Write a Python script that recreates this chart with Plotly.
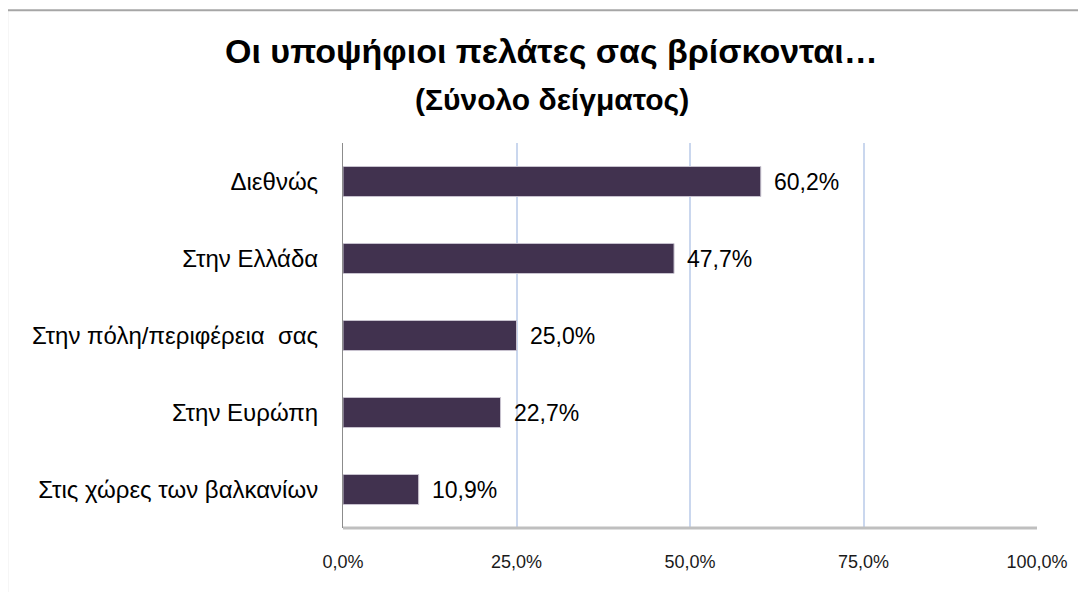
import plotly.graph_objects as go

categories = ["Διεθνώς", "Στην Ελλάδα", "Στην πόλη/περιφέρεια  σας", "Στην Ευρώπη", "Στις χώρες των βαλκανίων"]
values = [60.2, 47.7, 25.0, 22.7, 10.9]
value_labels = ["60,2%", "47,7%", "25,0%", "22,7%", "10,9%"]
tick_values = [0, 25, 50, 75, 100]
tick_labels = ["0,0%", "25,0%", "50,0%", "75,0%", "100,0%"]
title_text = "Οι υποψήφιοι πελάτες σας βρίσκονται…"
subtitle_text = "(Σύνολο δείγματος)"

BAR = "#41324F"
FONT = "Liberation Sans, Arial, sans-serif"

fig = go.Figure()
fig.add_trace(go.Bar(
    x=values, y=categories, orientation="h",
    marker=dict(color=BAR, line=dict(color="#C8C3CF", width=1)),
    width=0.39, hoverinfo="skip",
))

annotations = []
for c, v, t in zip(categories, values, value_labels):
    annotations.append(dict(x=v, y=c, xref="x", yref="y", text=t, showarrow=False,
                            xanchor="left", yanchor="middle", xshift=11,
                            font=dict(family=FONT, size=23, color="#000000")))
annotations.append(dict(x=0.301, y=1.238, xref="paper", yref="paper", text="<b>" + title_text + "</b>",
                        showarrow=False, xanchor="center", yanchor="middle",
                        font=dict(family=FONT, size=34, color="#000000")))
annotations.append(dict(x=0.301, y=1.112, xref="paper", yref="paper", text="<b>" + subtitle_text + "</b>",
                        showarrow=False, xanchor="center", yanchor="middle",
                        font=dict(family=FONT, size=30, color="#000000")))

fig.update_layout(
    width=1078, height=584,
    margin=dict(l=335, r=49, t=135, b=64),
    paper_bgcolor="white", plot_bgcolor="white",
    showlegend=False,
    annotations=annotations,
    xaxis=dict(range=[0, 100], tickvals=tick_values, ticktext=tick_labels,
               showgrid=True, gridcolor="#CAD7EE", gridwidth=2,
               zeroline=False, showline=False,
               ticks="", ticklabelstandoff=21,
               tickfont=dict(family=FONT, size=18, color="#1a1a1a"), fixedrange=True),
    yaxis=dict(autorange="reversed", showgrid=False, zeroline=False,
               showline=True, linecolor="#8C8C8C", linewidth=1,
               ticks="", ticklabelstandoff=19,
               tickfont=dict(family=FONT, size=24, color="#000000"), fixedrange=True),
    shapes=[
        # bottom axis line
        dict(type="line", xref="paper", yref="paper", x0=0, x1=1, y0=0, y1=0,
             line=dict(color="#BFBFBF", width=3)),
        # outer chart border (left and top)
        dict(type="line", xref="paper", yref="paper", x0=-0.484, x1=-0.484, y0=1.345, y1=-0.3,
             line=dict(color="#A6A6A6", width=2)),
        dict(type="line", xref="paper", yref="paper", x0=-0.484, x1=1.2, y0=1.345, y1=1.345,
             line=dict(color="#A6A6A6", width=2)),
    ],
)

fig.write_html("out.html")
